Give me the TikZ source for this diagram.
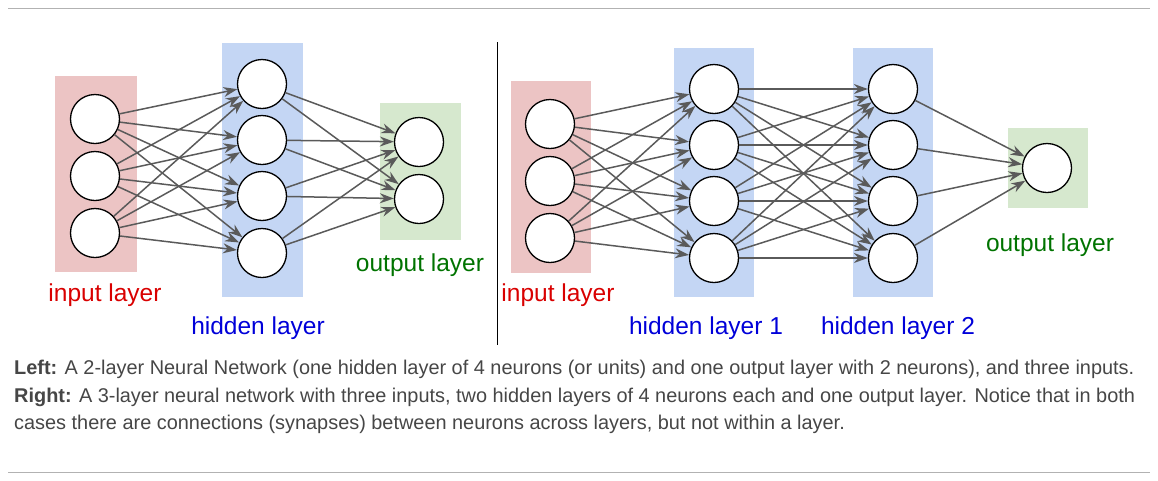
\documentclass[tikz,border=0pt]{standalone}
\usepackage{fontspec}
\setmainfont{Liberation Sans}
\usetikzlibrary{arrows.meta}
\definecolor{inred}{RGB}{236,196,196}
\definecolor{hidblue}{RGB}{196,214,244}
\definecolor{outgreen}{RGB}{214,232,206}
\definecolor{edgegray}{RGB}{90,90,90}
\definecolor{captext}{RGB}{70,70,70}
\begin{document}
\begin{tikzpicture}[x=1pt,y=-1pt]
\tikzset{
  neuron/.style={circle,draw=black,line width=1.3pt,fill=white,minimum size=49pt,inner sep=0pt},
  syn/.style={draw=edgegray,line width=1.5pt,-{Stealth[length=14pt,width=10pt]}},
  lbl/.style={font=\fontsize{24.5}{28}\selectfont}
}
\useasboundingbox (0,0) rectangle (1158,480);
\draw[gray!60,line width=0.8pt] (8,8) -- (1150,8);
\draw[gray!60,line width=0.8pt] (8,472) -- (1150,472);
\draw[black,line width=0.8pt] (497,42) -- (497,345);
% layer backgrounds
\fill[inred] (55,76) rectangle (137,272);
\fill[hidblue] (222,43) rectangle (303,297);
\fill[outgreen] (380,103) rectangle (461,240);
\fill[inred] (511,81) rectangle (591,273);
\fill[hidblue] (674,48) rectangle (754,297);
\fill[hidblue] (853,48) rectangle (933,297);
\fill[outgreen] (1008,128) rectangle (1088,208);
% left network
\foreach \i/\y in {1/119,2/176,3/233} \node[neuron] (li\i) at (95,\y) {};
\foreach \i/\y in {1/84,2/140,3/196,4/253} \node[neuron] (lh\i) at (262,\y) {};
\foreach \i/\y in {1/142,2/199} \node[neuron] (lo\i) at (419,\y) {};
\foreach \a in {1,2,3} \foreach \b in {1,2,3,4} \draw[syn] (li\a) -- (lh\b);
\foreach \a in {1,2,3,4} \foreach \b in {1,2} \draw[syn] (lh\a) -- (lo\b);
% right network
\foreach \i/\y in {1/124,2/181,3/238} \node[neuron] (ri\i) at (550,\y) {};
\foreach \i/\y in {1/89,2/145,3/201,4/258} {
  \node[neuron] (ra\i) at (714,\y) {};
  \node[neuron] (rb\i) at (893,\y) {};
}
\node[neuron] (ro) at (1047,168) {};
\foreach \a in {1,2,3} \foreach \b in {1,2,3,4} \draw[syn] (ri\a) -- (ra\b);
\foreach \a in {1,2,3,4} \foreach \b in {1,2,3,4} \draw[syn] (ra\a) -- (rb\b);
\foreach \a in {1,2,3,4} \draw[syn] (rb\a) -- (ro);
% labels
\node[lbl,text=red!85!black] (lin) at (105,295) {input layer};
\node[lbl,text=blue!85!black] (lhid) at (258,328) {hidden layer};
\node[lbl,text=green!45!black] (lout) at (420,265) {output layer};
\node[lbl,text=red!85!black] (rin) at (558,295) {input layer};
\node[lbl,text=blue!85!black] (rh1) at (706,328) {hidden layer 1};
\node[lbl,text=blue!85!black] (rh2) at (898,328) {hidden layer 2};
\node[lbl,text=green!45!black] (rout) at (1050,245) {output layer};
% caption
\node[anchor=north west,align=left,text=captext,font=\fontsize{19.9}{27.5}\selectfont,inner sep=0pt] (cap) at (14,360)
{\textbf{Left:} A 2-layer Neural Network (one hidden layer of 4 neurons (or units) and one output layer with 2 neurons), and three inputs.\\
\textbf{Right:} A 3-layer neural network with three inputs, two hidden layers of 4 neurons each and one output layer. Notice that in both\\
cases there are connections (synapses) between neurons across layers, but not within a layer.};
\end{tikzpicture}
\end{document}
